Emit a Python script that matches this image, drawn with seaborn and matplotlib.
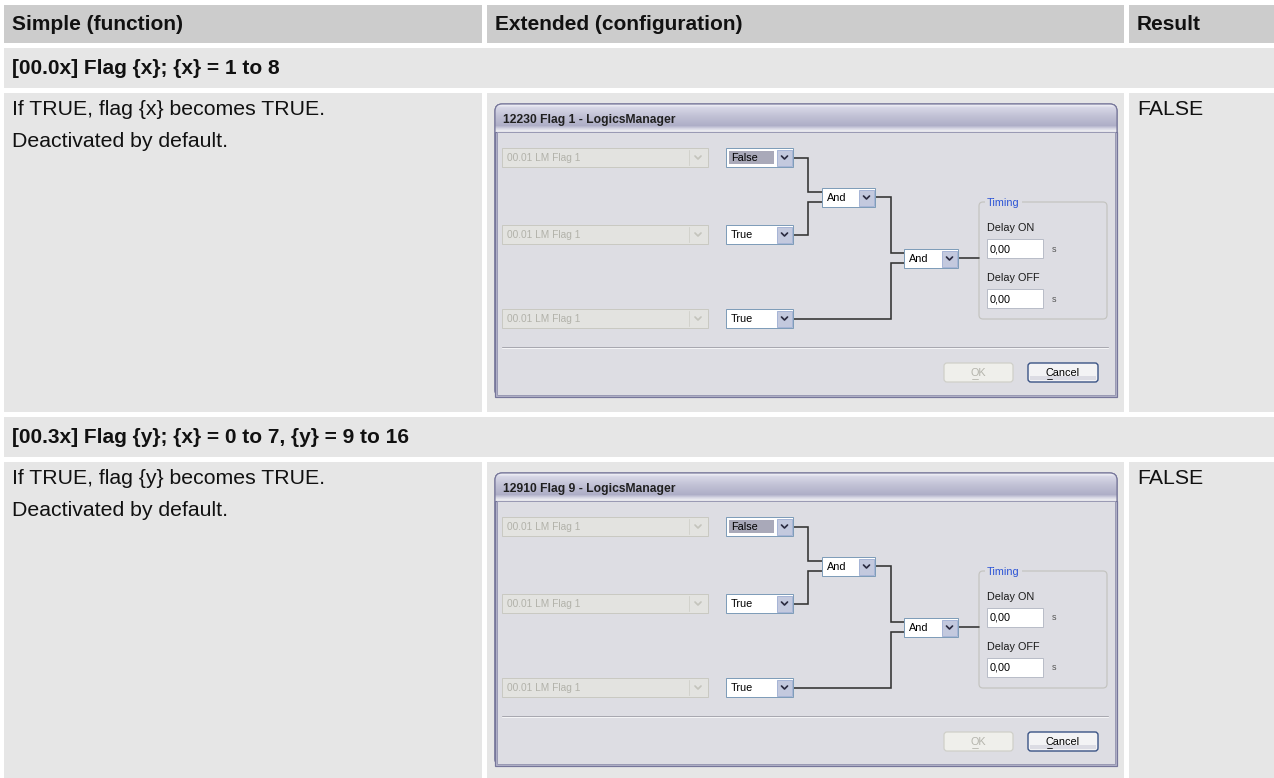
import numpy as np
import matplotlib
matplotlib.use("Agg")
import matplotlib.pyplot as plt
import matplotlib.patches as mpatches
import seaborn as sns

# --------------------------
# Setup
# --------------------------
sns.set_theme(style="white")
plt.rcParams["font.family"] = ["Liberation Sans", "DejaVu Sans"]

W, H = 1274, 778

# --------------------------
# Table content
# --------------------------
columns = ["Simple (function)", "Extended (configuration)", "Result"]
sections = ["[00.0x] Flag {x}; {x} = 1 to 8",
            "[00.3x] Flag {y}; {x} = 0 to 7, {y} = 9 to 16"]
descriptions = [["If TRUE, flag {x} becomes TRUE.", "Deactivated by default."],
                ["If TRUE, flag {y} becomes TRUE.", "Deactivated by default."]]
results = ["FALSE", "FALSE"]

# dialog content
dialog_titles = ["12230 Flag 1 - LogicsManager", "12910 Flag 9 - LogicsManager"]
inputs = ["00.01 LM Flag 1", "00.01 LM Flag 1", "00.01 LM Flag 1"]
signs = ["False", "True", "True"]
operators = ["And", "And"]
delay_labels = ["Delay ON", "Delay OFF"]
delay_values = ["0,00", "0,00"]
buttons = ["OK", "Cancel"]

# layout (pixels)
col_left = [4, 487, 1129]
col_right = [482, 1124, 1274]
header_top, header_h = 5, 38
section_top = [48, 417]
section_h = 40
content_top = [93, 462]
content_h = [319, 316]

HEADER_BG = "#cccccc"
ROW_BG = "#e6e6e6"
DLG_BG = "#dddde3"
WIRE = "#333333"
PX = 0.72  # one pixel in points


def rect(ax, x, y, w, h, fc, ec="none", lw=1.0, z=1, **kw):
    p = mpatches.Rectangle((x, y), w, h, facecolor=fc, edgecolor=ec,
                           linewidth=lw * PX, zorder=z, **kw)
    ax.add_patch(p)
    return p


def chevron(ax, cx, cy, color, z):
    ax.plot([cx - 3, cx, cx + 3], [cy - 1.5, cy + 1.5, cy - 1.5],
            color=color, lw=1.7 * PX, zorder=z, solid_capstyle="round")


def combo(ax, x, y, w, h, text, enabled=True, highlight=False, z=5):
    if enabled:
        rect(ax, x, y, w, h, "white", "#7f9db9", z=z)
        rect(ax, x + w - 16, y + 1.5, 14.5, h - 3, "#c3c9de", "#a7b5d6", z=z + 0.1)
        chevron(ax, x + w - 8.5, y + h / 2, "#2b2b40", z + 0.2)
        if highlight:
            rect(ax, x + 3, y + 3, w - 22, h - 6, "#a9a9b9", z=z + 0.1)
        ax.text(x + 5, y + h / 2 + 0.5, text, fontsize=7.8, color="black",
                va="center", ha="left", zorder=z + 0.3)
    else:
        rect(ax, x, y, w, h, "#e3e3e0", "#c9c9c2", z=z)
        ax.plot([x + w - 19, x + w - 19], [y + 2, y + h - 2], color="#d2d2cc",
                lw=PX, zorder=z + 0.1)
        chevron(ax, x + w - 10, y + h / 2, "#c4c4bc", z + 0.2)
        ax.text(x + 5, y + h / 2 + 0.5, text, fontsize=7.3, color="#b2b2aa",
                va="center", ha="left", zorder=z + 0.3)


def wire(ax, xs, ys, z=4):
    ax.plot(xs, ys, color=WIRE, lw=1.6 * PX, zorder=z, solid_joinstyle="miter")


def draw_dialog(ax, x0, y0, title):
    w, h, tb = 622, 293, 28
    # outer frame with rounded top
    frame = mpatches.FancyBboxPatch((x0, y0), w, h,
                                    boxstyle="round,pad=0,rounding_size=7",
                                    facecolor="#c6c6d6", edgecolor="#76769a",
                                    linewidth=1.2 * PX, zorder=2)
    ax.add_patch(frame)
    # title bar gradient
    stops_t = [0.0, 0.12, 0.45, 0.78, 0.9, 1.0]
    stops_c = np.array([[0.95, 0.95, 0.97], [0.84, 0.84, 0.90], [0.75, 0.75, 0.83],
                        [0.68, 0.68, 0.78], [0.85, 0.85, 0.90], [0.95, 0.95, 0.96]])
    for i in range(tb):
        t = i / (tb - 1)
        c = [np.interp(t, stops_t, stops_c[:, k]) for k in range(3)]
        r = rect(ax, x0, y0 + i, w, 1.05, tuple(c), z=2.1)
        r.set_clip_path(frame)
    ax.add_patch(mpatches.FancyBboxPatch((x0, y0), w, h,
                                         boxstyle="round,pad=0,rounding_size=7",
                                         facecolor="none", edgecolor="#76769a",
                                         linewidth=1.2 * PX, zorder=2.2))
    ax.text(x0 + 8, y0 + 16, title, fontsize=8.7, fontweight="bold",
            color="#202020", va="center", ha="left", zorder=3)
    # body
    rect(ax, x0, y0 + tb, w, h - tb, "#b4b4ca", "#76769a", lw=1.2, z=2.3)
    rect(ax, x0 + 2, y0 + tb, w - 4, h - tb - 2.5, DLG_BG, "#9a9ab4", z=2.4)

    rows = [54, 131, 215]
    for k, (cy, lab, sg) in enumerate(zip(rows, inputs, signs)):
        combo(ax, x0 + 7, y0 + cy - 10, 206, 19, lab, enabled=False)
        combo(ax, x0 + 231, y0 + cy - 10, 67, 19, sg, highlight=(k == 0))

    combo(ax, x0 + 327, y0 + 84, 53, 19, operators[0])
    combo(ax, x0 + 409, y0 + 145, 54, 19, operators[1])

    # connecting wires
    wire(ax, [x0 + 298, x0 + 313, x0 + 313, x0 + 327],
         [y0 + 54, y0 + 54, y0 + 88, y0 + 88])
    wire(ax, [x0 + 298, x0 + 313, x0 + 313, x0 + 327],
         [y0 + 131, y0 + 131, y0 + 98, y0 + 98])
    wire(ax, [x0 + 380, x0 + 396, x0 + 396, x0 + 409],
         [y0 + 93, y0 + 93, y0 + 149, y0 + 149])
    wire(ax, [x0 + 298, x0 + 396, x0 + 396, x0 + 409],
         [y0 + 215, y0 + 215, y0 + 159, y0 + 159])
    wire(ax, [x0 + 463, x0 + 484], [y0 + 154, y0 + 154])

    # timing group
    grp = mpatches.FancyBboxPatch((x0 + 484, y0 + 98), 128, 117,
                                  boxstyle="round,pad=0,rounding_size=4",
                                  facecolor="none", edgecolor="#c4c4c0",
                                  linewidth=1.2 * PX, zorder=3)
    ax.add_patch(grp)
    rect(ax, x0 + 490, y0 + 93, 37, 10, DLG_BG, z=3.1)
    ax.text(x0 + 492, y0 + 99, "Timing", fontsize=7.8, color="#2d55d6",
            va="center", ha="left", zorder=3.2)
    for yy, lab, val in zip([124, 174], delay_labels, delay_values):
        ax.text(x0 + 492, y0 + yy, lab, fontsize=7.8, color="#1a1a1a",
                va="center", ha="left", zorder=3.2)
        rect(ax, x0 + 492, y0 + yy + 11, 56, 19, "white", "#b9bdc8", z=3.1)
        ax.text(x0 + 495, y0 + yy + 21, val, fontsize=7.8, color="black",
                va="center", ha="left", zorder=3.2)
        ax.text(x0 + 557, y0 + yy + 21, "s", fontsize=6.5, color="#555555",
                va="center", ha="left", zorder=3.2)

    # separator
    ax.plot([x0 + 7, x0 + 613], [y0 + 243, y0 + 243], color="#a8a8b0",
            lw=PX, zorder=3)
    ax.plot([x0 + 7, x0 + 613], [y0 + 244.2, y0 + 244.2], color="#f4f4f6",
            lw=PX, zorder=3)

    # buttons
    ok = mpatches.FancyBboxPatch((x0 + 449, y0 + 259), 69, 19,
                                 boxstyle="round,pad=0,rounding_size=3",
                                 facecolor="#efefeb", edgecolor="#cfcfc8",
                                 linewidth=1.2 * PX, zorder=3)
    ax.add_patch(ok)
    ax.text(x0 + 483.5, y0 + 269, buttons[0], fontsize=7.8, color="#b4b4ac",
            va="center", ha="center", zorder=3.2)
    ax.plot([x0 + 477, x0 + 483], [y0 + 275, y0 + 275], color="#b4b4ac",
            lw=0.8 * PX, zorder=3.2)
    cancel = mpatches.FancyBboxPatch((x0 + 533, y0 + 259), 70, 19,
                                     boxstyle="round,pad=0,rounding_size=3",
                                     facecolor="#f3f3f5", edgecolor="#3b5486",
                                     linewidth=1.4 * PX, zorder=3)
    ax.add_patch(cancel)
    rect(ax, x0 + 535, y0 + 272, 66, 4, "#dcdce4", z=3.05)
    ax.text(x0 + 568, y0 + 269, buttons[1], fontsize=7.8, color="black",
            va="center", ha="center", zorder=3.2)
    ax.plot([x0 + 552, x0 + 557], [y0 + 275, y0 + 275], color="black",
            lw=0.8 * PX, zorder=3.2)


# --------------------------
# Figure
# --------------------------
fig = plt.figure(figsize=(W / 100, H / 100), dpi=100)
ax = fig.add_axes([0, 0, 1, 1])
ax.set_xlim(0, W)
ax.set_ylim(H, 0)
ax.axis("off")

# header row
for left, right, name in zip(col_left, col_right, columns):
    rect(ax, left, header_top, right - left, header_h, HEADER_BG)
    ax.text(left + 8, header_top + header_h / 2, name, fontsize=15,
            fontweight="bold", color="#111111", va="center", ha="left")

for i in range(2):
    # section title spanning the table
    rect(ax, col_left[0], section_top[i], W - col_left[0], section_h, ROW_BG)
    ax.text(col_left[0] + 8, section_top[i] + section_h / 2, sections[i],
            fontsize=15, fontweight="bold", color="#111111",
            va="center", ha="left")

    # content cells
    for left, right in zip(col_left, col_right):
        rect(ax, left, content_top[i], right - left, content_h[i], ROW_BG)
    for j, line in enumerate(descriptions[i]):
        ax.text(col_left[0] + 8, content_top[i] + 16 + 32 * j, line,
                fontsize=15.3, color="#111111", va="center", ha="left")
    ax.text(col_left[2] + 8, content_top[i] + 16, results[i], fontsize=15.3,
            color="#111111", va="center", ha="left")

    draw_dialog(ax, 495, content_top[i] + 11, dialog_titles[i])

fig.savefig("out.png", dpi=100)
plt.close(fig)
